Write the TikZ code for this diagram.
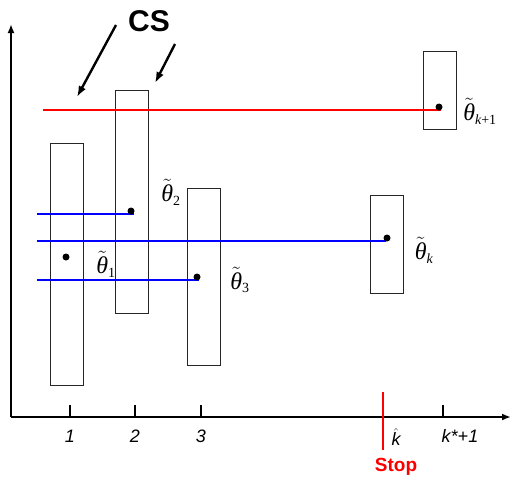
\documentclass[tikz,border=0pt]{standalone}
\usepackage{fontspec}
\setmainfont{Liberation Sans}
\newfontfamily\tms{Liberation Serif}
\usetikzlibrary{arrows.meta}
\newcommand\tth[1]{$\tilde{\hbox{\tms\itshape θ}}_{\hbox{\tms\fontsize{14}{14}\selectfont #1}}$}
\begin{document}
\begin{tikzpicture}[x=1pt,y=-1pt,
 bx/.style={draw=black!85, line width=0.8pt, inner sep=0pt},
 dotn/.style={circle, fill=black, inner sep=0pt, minimum size=7pt},
 bl/.style={draw=blue, line width=2.4pt},
 rd/.style={draw=red, line width=2.4pt},
 ax/.style={line width=2pt, -{Latex[length=9pt,width=7pt]}},
 tk/.style={line width=1.6pt},
 num/.style={font=\fontsize{18}{18}\selectfont\itshape, inner sep=0pt},
 th/.style={font=\fontsize{24}{24}\selectfont, inner sep=0pt},
 csarr/.style={line width=2.4pt, -{Latex[length=11pt,width=8pt]}}]
\useasboundingbox (0,0) rectangle (513,479);
% axes
\coordinate (o) at (11,417);
\coordinate (ytop) at (11,24);
\coordinate (xend) at (511,417);
\draw[ax] (o) -- (ytop);
\draw[ax] (o) -- (xend);
% ticks
\foreach \n/\x in {t1/70,t2/135,t3/201,tk1/443}{
  \coordinate (\n) at (\x,405);
  \draw[tk] (\n) -- (\x,417);
}
\node[num] (l1) at (70,436) {1};
\node[num] (l2) at (135,436) {2};
\node[num] (l3) at (201,436) {3};
\node[num] (lk1) at (460,436) {k*+1};
\node[num] (lkh) at (396,437) {$\hat{\hbox{\fontsize{18}{18}\selectfont\itshape k}}$};
% stop
\coordinate (s1) at (383,392);
\coordinate (s2) at (383,450);
\draw[rd] (s1) -- (s2);
\node[font=\fontsize{19}{19}\selectfont\bfseries, text=red, inner sep=0pt] (stop) at (396,467) {Stop};
% boxes
\node[bx, minimum width=33pt, minimum height=242pt] (b1) at (66.5,264) {};
\node[bx, minimum width=33pt, minimum height=223pt] (b2) at (131.5,201.5) {};
\node[bx, minimum width=33pt, minimum height=177pt] (b3) at (203.5,276.5) {};
\node[bx, minimum width=33pt, minimum height=98pt] (bk) at (386.5,244) {};
\node[bx, minimum width=33pt, minimum height=78pt] (bk1) at (439.5,90.5) {};
% lines
\coordinate (r0) at (43,110);
\coordinate (rb1) at (441,110);
\coordinate (u0) at (37,214);
\coordinate (u1) at (134,214);
\coordinate (v0) at (37,241);
\coordinate (v1) at (386,241);
\coordinate (w0) at (37,280);
\coordinate (w1) at (199,280);
\draw[rd] (r0) -- (rb1);
\draw[bl] (u0) -- (u1);
\draw[bl] (v0) -- (v1);
\draw[bl] (w0) -- (w1);
% dots
\node[dotn] (d1) at (66,257) {};
\node[dotn] (d2) at (131,211) {};
\node[dotn] (d3) at (197,277) {};
\node[dotn] (dk) at (387,238) {};
\node[dotn] (dk1) at (439,107) {};
% labels
\node[th] (th1) at (106,264) {\tth{1}};
\node[th] (th2) at (171,192) {\tth{2}};
\node[th] (th3) at (240,280) {\tth{3}};
\node[th] (thk) at (424,250) {\tth{\itshape k}};
\node[th] (thk1) at (480,111) {\tth{\itshape k\upshape+1}};
% CS
\node[font=\fontsize{30}{30}\selectfont\bfseries, inner sep=0pt] (cs) at (149,21) {CS};
\coordinate (a1s) at (116,25);
\coordinate (a1e) at (77,97);
\coordinate (a2s) at (175,44);
\coordinate (a2e) at (155,83);
\draw[csarr] (a1s) -- (a1e);
\draw[csarr] (a2s) -- (a2e);
\end{tikzpicture}
\end{document}
